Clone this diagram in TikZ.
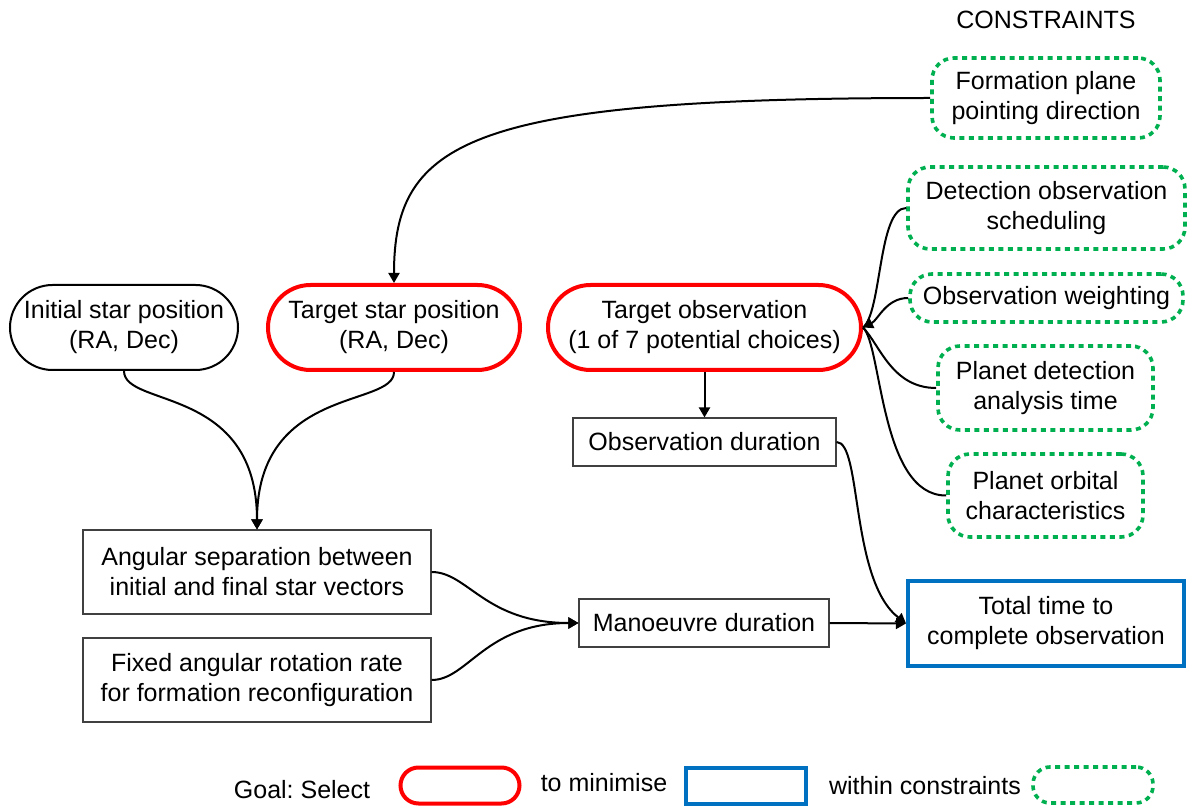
\documentclass[tikz,border=0pt]{standalone}
\usepackage{fontspec}
\setmainfont{Liberation Sans}
\usetikzlibrary{arrows.meta,shapes.misc}
\frenchspacing

\definecolor{selred}{RGB}{255,0,0}
\definecolor{goalblue}{RGB}{0,112,192}
\definecolor{consgreen}{RGB}{0,176,80}

\tikzset{
  txt/.style={font=\fontsize{25}{30}\selectfont, align=center, inner sep=0pt},
  stadium/.style={txt, rounded rectangle, draw=black, line width=2pt},
  selbox/.style={txt, rounded rectangle, draw=selred, line width=4pt},
  plainbox/.style={txt, rectangle, draw=black!75, line width=1.1pt},
  goalbox/.style={txt, rectangle, draw=goalblue, line width=4pt},
  consbox/.style={txt, rectangle, rounded corners=22pt, draw=consgreen,
                  line width=3.6pt, dash pattern=on 5pt off 4.5pt},
  link/.style={draw=black, line width=2pt},
  arr/.style={link, -{Triangle[length=10pt,width=11pt]}}
}

\begin{document}
\begin{tikzpicture}[x=1pt,y=-1pt]
\useasboundingbox (0,0) rectangle (1187,810);

% constraints column
\node[txt] (ctitle) at (1046,20) {CONSTRAINTS};
\node[consbox, minimum width=228pt, minimum height=80pt] (fp) at (1046,98) {Formation plane\\pointing direction};
\node[consbox, minimum width=277pt, minimum height=82pt] (dos) at (1046.5,208) {Detection observation\\scheduling};
\node[consbox, minimum width=273pt, minimum height=48pt] (ow) at (1046.5,298) {Observation weighting};
\node[consbox, minimum width=215pt, minimum height=84pt] (pda) at (1045.5,388) {Planet detection\\analysis time};
\node[consbox, minimum width=195pt, minimum height=83pt] (poc) at (1045.5,495.5) {Planet orbital\\characteristics};

% inputs
\node[stadium, minimum width=228pt, minimum height=85pt] (isp) at (124,327.5) {Initial star position\\(RA, Dec)};
\node[selbox, minimum width=252pt, minimum height=85pt] (tsp) at (394,327.5) {Target star position\\(RA, Dec)};
\node[selbox, minimum width=313pt, minimum height=85pt] (tob) at (704.5,327.5) {Target observation\\(1 of 7 potential choices)};

% intermediate quantities
\node[plainbox, minimum width=263pt, minimum height=48pt] (odur) at (704.5,442) {Observation duration};
\node[plainbox, minimum width=348pt, minimum height=84pt] (ang) at (257,572) {Angular separation between\\initial and final star vectors};
\node[plainbox, minimum width=348pt, minimum height=84pt] (rate) at (257,680) {Fixed angular rotation rate\\for formation reconfiguration};
\node[plainbox, minimum width=250pt, minimum height=48pt] (mdur) at (704,623) {Manoeuvre duration};
\node[goalbox, minimum width=276pt, minimum height=85pt] (tot) at (1046,623.5) {Total time to\\complete observation};

% connectors
\draw[arr] (fp.west) .. controls (470,98) and (394,140) .. (tsp.north);
\draw[arr] (isp.south) .. controls (124,408) and (257,385) .. (ang.north);
\draw[arr] (tsp.south) .. controls (394,408) and (257,385) .. (ang.north);
\draw[arr] (tob.south) -- (odur.north);

\draw[link] (dos.west) .. controls (878,208) and (882,312) .. (tob.east);
\draw[link] (pda.west) .. controls (892,388) and (880,345) .. (tob.east);
\draw[link] (poc.west) .. controls (880,496) and (882,345) .. (tob.east);
\draw[arr] (ow.west) .. controls (886,298) and (878,320) .. (tob.east);

\draw[arr] (odur.east) .. controls (862,442) and (850,580) .. (tot.west);
\draw[arr] (ang.east) .. controls (468,572) and (485,623) .. (mdur.west);
\draw[arr] (rate.east) .. controls (468,680) and (485,623) .. (mdur.west);
\draw[arr] (mdur.east) -- (tot.west);

% goal statement
\node[txt] (lgoal) at (302,790) {Goal: Select};
\node[selbox, minimum width=119pt, minimum height=36pt] (lsel) at (460,785.5) {};
\node[txt] (lmin) at (604,783) {to minimise};
\node[goalbox, minimum width=120pt, minimum height=36pt] (lgoalbox) at (746,786) {};
\node[txt] (lwithin) at (925,786) {within constraints};
\node[consbox, rounded corners=17pt, minimum width=120pt, minimum height=36pt] (lcons) at (1093,785) {};
\end{tikzpicture}
\end{document}
